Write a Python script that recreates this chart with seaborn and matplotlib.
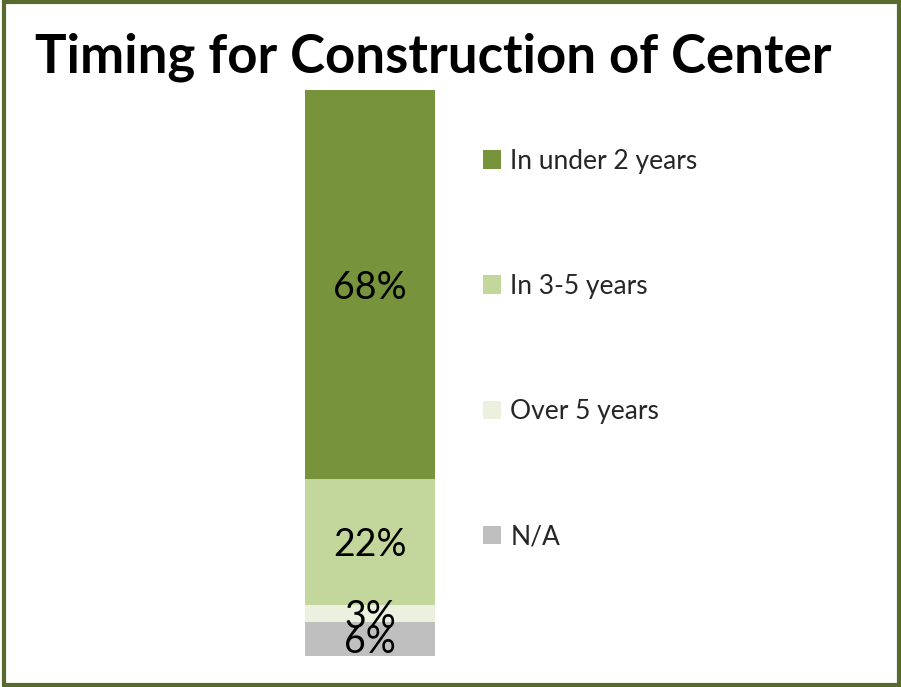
import matplotlib
matplotlib.use("Agg")
import matplotlib.pyplot as plt
import matplotlib.patches as mpatches
import seaborn as sns
import pandas as pd

# data, bottom to top of the stack
categories = ['N/A', 'Over 5 years', 'In 3-5 years', 'In under 2 years']
values = [6, 3, 22, 68]
colors = ['#BFBFBF', '#EBF1DE', '#C3D69B', '#77933C']

sns.set_theme(style="white")
plt.rcParams['font.family'] = ['Lato', 'DejaVu Sans']

df = pd.DataFrame({'cat': categories, 'val': values})
df['top'] = df['val'].cumsum()
df['mid'] = df['top'] - df['val'] / 2
df['grp'] = ''

fig = plt.figure(figsize=(9.01, 6.87), dpi=100)
W, H = 901, 687
ax = fig.add_axes([305 / W, 31 / H, 130 / W, 566 / H])

# stacked bar: draw cumulative totals from the tallest down
for i in range(len(df) - 1, -1, -1):
    sns.barplot(x=[df['grp'][i]], y=[df['top'][i]], color=colors[i],
                width=1.0, saturation=1, linewidth=0, ax=ax)

for _, r in df.iterrows():
    ax.text(0, r['mid'] - 0.6, f"{r['val']}%", ha='center', va='center',
            fontsize=27, color='black')

ax.set_xlim(-0.5, 0.5)
ax.set_ylim(0, df['top'].iloc[-1])
ax.axis('off')

# legend, top entry first
handles = [mpatches.Patch(facecolor=c, edgecolor='none', label=l)
           for l, c in zip(categories[::-1], colors[::-1])]
fig.legend(handles=handles, loc='upper left', bbox_to_anchor=(472 / W, 1 - 138 / H),
           frameon=False, fontsize=19, handlelength=0.7, handleheight=0.7,
           handletextpad=0.35, labelspacing=3.8, borderaxespad=0)

fig.text(35 / W, 1 - 57 / H, 'Timing for Construction of Center', fontsize=38,
         fontweight='bold', ha='left', va='center', color='black')

fig.patches.append(mpatches.Rectangle((4 / W, 2 / H), 895 / W, 683 / H,
                                      transform=fig.transFigure, fill=False,
                                      edgecolor='#566B2C', linewidth=3))

fig.savefig('out.png', dpi=100, facecolor='white')
